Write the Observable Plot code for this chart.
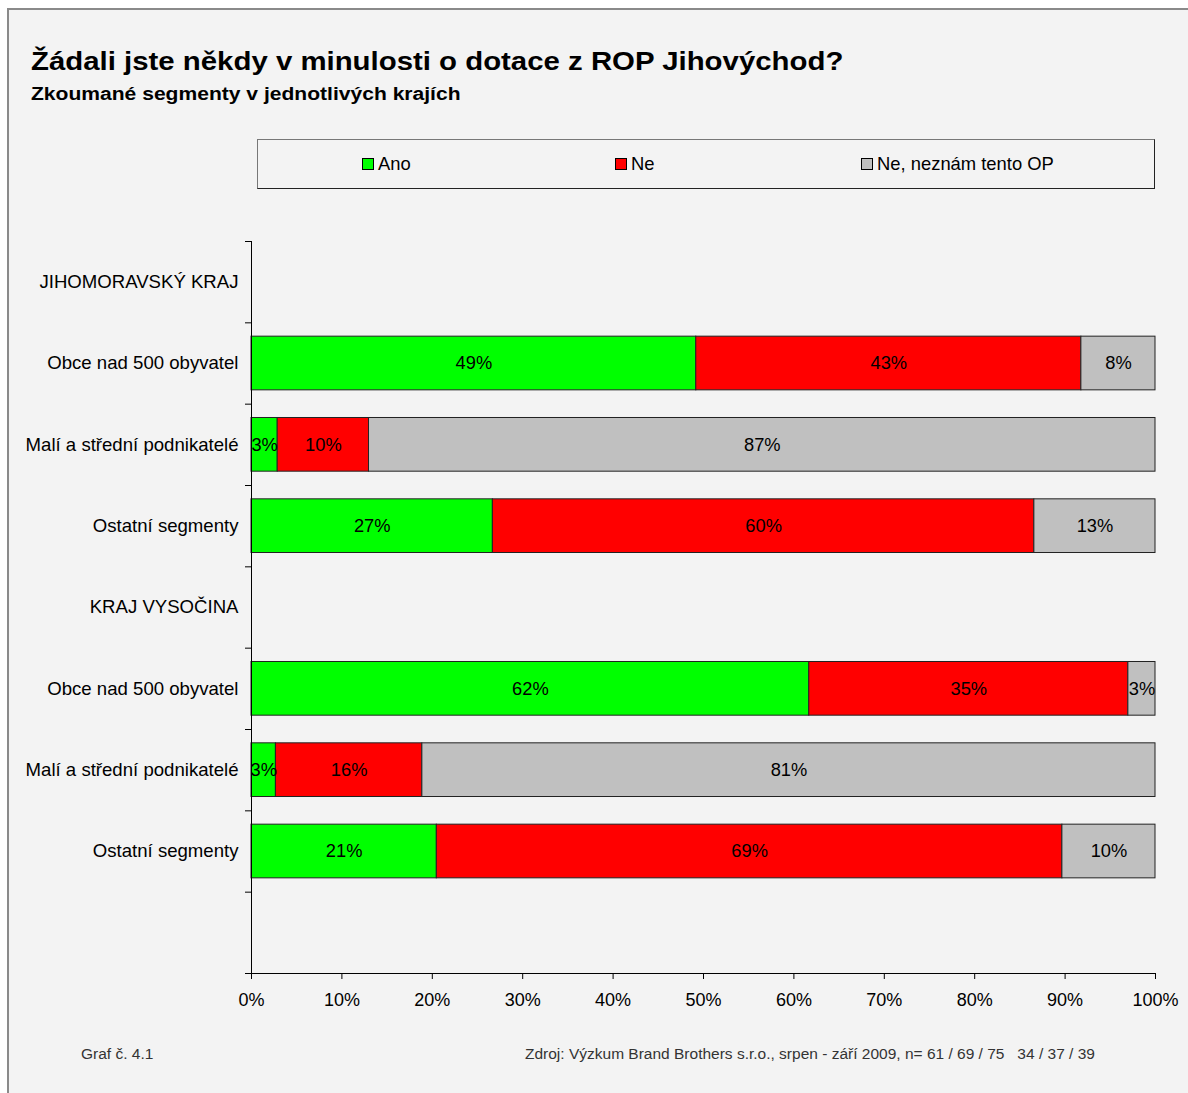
<!DOCTYPE html>
<html>
<head>
<meta charset="utf-8">
<script src="https://cdn.jsdelivr.net/npm/d3@7"></script>
<script src="https://cdn.jsdelivr.net/npm/@observablehq/plot@0.6"></script>
<style>
  html, body { margin: 0; padding: 0; background: #ffffff; }
  body { width: 1188px; height: 1093px; position: relative; overflow: hidden; font-family: "Liberation Sans", Arial, sans-serif; color: #000; }
  #frame { position: absolute; left: 7px; top: 8px; width: 1190px; height: 1100px; background: #f3f3f3; border-left: 2px solid #8a8a8a; border-top: 2px solid #8a8a8a; }
  .abs { position: absolute; white-space: nowrap; line-height: 1; }
  #title { left: 31px; top: 49px; font-size: 25px; font-weight: bold; transform: scaleX(1.175); transform-origin: 0 0; }
  #subtitle { left: 31px; top: 85px; font-size: 18px; font-weight: bold; transform: scaleX(1.17); transform-origin: 0 0; }
  #legend { position: absolute; left: 257px; top: 139px; width: 896px; height: 48px; border: 1px solid #222; border-top-color: #777; border-left-color: #777; background: #f3f3f3; }
  .item { position: absolute; top: 0; height: 48px; display: flex; align-items: center; font-size: 18.4px; white-space: nowrap; }
  .sw { width: 10px; height: 10px; border: 1px solid #000; margin-right: 4px; }
  #chart { position: absolute; left: 0; top: 200px; }
  .foot { position: absolute; top: 1046px; font-size: 15.5px; color: #333; white-space: nowrap; line-height: 1; }
</style>
</head>
<body>
<div id="frame"></div>
<div id="title" class="abs"></div>
<div id="subtitle" class="abs"></div>
<div id="legend"></div>
<div id="chart"></div>
<div id="foot1" class="foot" style="left:81px"></div>
<div id="foot2" class="foot" style="left:525px"></div>
<script>
// ---- data ----
const titleText = "Žádali jste někdy v minulosti o dotace z ROP Jihovýchod?";
const subtitleText = "Zkoumané segmenty v jednotlivých krajích";
const categories = [
  "JIHOMORAVSKÝ KRAJ",
  "Obce nad 500 obyvatel",
  "Malí a střední podnikatelé",
  "Ostatní segmenty",
  "KRAJ VYSOČINA",
  "Obce nad 500 obyvatel",
  "Malí a střední podnikatelé",
  "Ostatní segmenty",
  ""
];
const seriesNames = ["Ano", "Ne", "Ne, neznám tento OP"];
const ano    = [null, 49.2,  2.9, 26.7, null, 61.7,  2.7, 20.5, null];
const ne     = [null, 42.6, 10.1, 59.9, null, 35.3, 16.2, 69.2, null];
const neznam = [null,  8.2, 87.0, 13.4, null,  3.0, 81.1, 10.3, null];
const xTicks = [0, 10, 20, 30, 40, 50, 60, 70, 80, 90, 100];
const footLeft = "Graf č. 4.1";
const footRight = "Zdroj: Výzkum Brand Brothers s.r.o., srpen - září 2009, n= 61 / 69 / 75\u00a0\u00a0\u00a034 / 37 / 39";
const colors = ["#00ff00", "#ff0000", "#c0c0c0"];

// ---- build table ----
const seriesValues = [ano, ne, neznam];
const segments = [];
categories.forEach((c, i) => {
  let acc = 0;
  seriesValues.forEach((vals, s) => {
    const v = vals[i];
    if (v == null) return;
    segments.push({row: i, series: seriesNames[s], x1: acc, x2: acc + v, value: v});
    acc += v;
  });
});

document.getElementById("title").textContent = titleText;
document.getElementById("subtitle").textContent = subtitleText;
document.getElementById("foot1").textContent = footLeft;
document.getElementById("foot2").textContent = footRight;

// legend
const legend = document.getElementById("legend");
const legendX = [104, 357, 603];
seriesNames.forEach((name, i) => {
  const it = document.createElement("div");
  it.className = "item";
  it.style.left = legendX[i] + "px";
  const sw = document.createElement("div");
  sw.className = "sw";
  sw.style.background = colors[i];
  const t = document.createElement("span");
  t.textContent = name;
  it.appendChild(sw);
  it.appendChild(t);
  legend.appendChild(it);
});

const font = '"Liberation Sans", Arial, sans-serif';
const chart = Plot.plot({
  width: 1188,
  height: 840,
  marginTop: 41,
  marginBottom: 67,
  marginLeft: 251,
  marginRight: 33,
  style: {background: "transparent", fontSize: "18px", fontFamily: font, color: "#000", overflow: "visible"},
  x: {domain: [0, 100]},
  y: {domain: [0, categories.length], reverse: true},
  color: {domain: seriesNames, range: colors},
  marks: [
    Plot.rectX(segments, {
      x1: "x1", x2: "x2",
      y1: d => d.row + 0.17, y2: d => d.row + 0.83,
      fill: "series", stroke: "#222", strokeWidth: 1
    }),
    Plot.text(segments, {
      x: d => (d.x1 + d.x2) / 2,
      y: d => d.row + 0.5,
      text: d => Math.round(d.value) + "%",
      fontSize: 18.3, fill: "#000"
    }),
    Plot.text(categories, {
      x: 0, y: (d, i) => i + 0.5, text: d => d,
      textAnchor: "end", dx: -13, fontSize: 18.6, fill: "#000"
    }),
    Plot.ruleX([0], {stroke: "#000"}),
    Plot.ruleY([categories.length], {stroke: "#000"}),
    Plot.axisY({ticks: d3.range(0, categories.length + 1), tickSize: 6, tickFormat: () => "", stroke: "#000"}),
    Plot.axisX({ticks: xTicks, tickSize: 6, tickPadding: 14, tickFormat: d => d + "%", fontSize: 18, stroke: "#000", fill: "#000"})
  ]
});
document.getElementById("chart").appendChild(chart);
</script>
</body>
</html>
